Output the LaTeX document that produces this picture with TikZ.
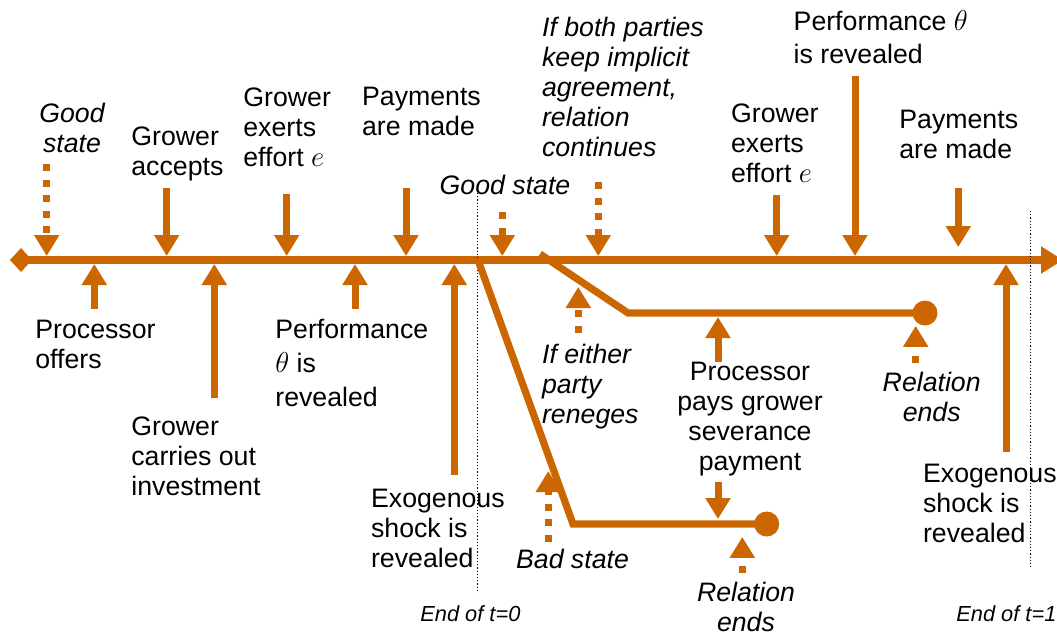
\documentclass[tikz,border=0pt]{standalone}
\usepackage{fontspec}
\setmainfont{Liberation Sans}
\usetikzlibrary{arrows.meta}
\definecolor{timeorange}{RGB}{204,102,0}

\tikzstyle{timeline} = [line width=3.6pt, draw=timeorange]
\tikzstyle{branch} = [line width=3.6pt, draw=timeorange, line join=miter]
\tikzstyle{arrow} = [line width=3.5pt, draw=timeorange, -{Triangle[width=12pt,length=10.5pt]}]
\tikzstyle{dotarrow} = [arrow, dash pattern=on 3.5pt off 4.3pt]
\tikzstyle{txt} = [inner sep=0pt, align=left, anchor=base west, font=\fontsize{13.35}{15}\selectfont]
\tikzstyle{ittxt} = [txt, font=\fontsize{13.35}{15}\selectfont\itshape]
\tikzstyle{endtxt} = [txt, font=\fontsize{10.9}{13}\selectfont\itshape]
\tikzstyle{divider} = [line width=0.5pt, dash pattern=on 0.6pt off 1pt]
\tikzstyle{dotend} = [circle, fill=timeorange, minimum size=12.5pt, inner sep=0pt]

\begin{document}
\begin{tikzpicture}[x=0.5pt, y=-0.5pt]
    \clip (0,0) rectangle (1057,634);

    %Time line
    \coordinate (lineStart) at (10,260);
    \coordinate (lineEnd) at (1063,260);
    \coordinate (tTop) at (0,256);
    \coordinate (tBot) at (0,264);
    \draw [timeline, {Diamond[length=11pt,width=12pt]}-{Triangle[width=13pt,length=11pt]}] (lineStart) -- (lineEnd);

    %Period dividers
    \coordinate (divTop0) at (477.7,193);
    \coordinate (divBot0) at (477.7,593);
    \coordinate (divTop1) at (1030,211);
    \coordinate (divBot1) at (1030,568);
    \draw [divider] (divTop0) -- (divBot0);
    \draw [divider] (divTop1) -- (divBot1);

    %Branches
    \coordinate (splitBad) at (478,260);
    \coordinate (cornerBad) at (573,524);
    \node (relEnd0) [dotend] at (766.7,524) {};
    \coordinate (splitRen) at (540,254);
    \coordinate (cornerRen) at (628,313);
    \node (relEnd1) [dotend] at (925,313) {};
    \draw [branch] (splitBad) -- (cornerBad) -- (relEnd0.center);
    \draw [branch] (splitRen) -- (cornerRen) -- (relEnd1.center);

    %Labels above the line (placed at the baseline of their last line)
    \node (gsLab0) [ittxt, align=center, anchor=base] at (72,152.7) {Good\\state};
    \node (acceptLab) [txt] at (131,175) {Grower\\accepts};
    \node (effortLab0) [txt] at (243,166.7) {Grower\\exerts\\effort $e$};
    \node (payLab0) [txt] at (361.7,135) {Payments\\are made};
    \node (gsLab1) [ittxt] at (439.3,194.3) {Good state};
    \node (keepLab) [ittxt] at (541.7,156.7) {If both parties\\keep implicit\\agreement,\\relation\\continues};
    \node (effortLab1) [txt] at (730.7,182.7) {Grower\\exerts\\effort $e$};
    \node (perfLab1) [txt] at (793.3,63.3) {Performance $\theta$\\[1.5pt]is revealed};
    \node (payLab1) [txt] at (899,158.3) {Payments\\are made};

    %Labels below the line
    \node (offerLab) [txt] at (35,368.3) {Processor\\offers};
    \node (investLab) [txt] at (131,495) {Grower\\carries out\\investment};
    \node (perfLab0) [txt] at (275,406.7) {Performance\\[2pt]$\theta$ is\\[2pt]revealed};
    \node (shockLab0) [txt] at (370.7,567.3) {Exogenous\\shock is\\revealed};
    \node (shockLab1) [txt] at (922.7,542.5) {Exogenous\\shock is\\revealed};
    \node (renegeLab) [ittxt] at (541.7,423.3) {If either\\party\\reneges};
    \node (severLab) [txt, align=center, anchor=base] at (750,470) {Processor\\pays grower\\severance\\payment};
    \node (relEndLab1) [ittxt, align=center, anchor=base] at (931.7,421.7) {Relation\\ends};
    \node (relEndLab0) [ittxt, align=center, anchor=base] at (746,631) {Relation\\ends};
    \node (badLab) [ittxt] at (515.7,568.3) {Bad state};
    \node (endLab0) [endtxt] at (420,621.7) {End of t=0};
    \node (endLab1) [endtxt] at (956,621.7) {End of t=1};

    %Arrow tails
    \coordinate (gsArr0) at (46.7,164);
    \coordinate (acceptArr) at (166.7,188);
    \coordinate (effortArr0) at (286.7,194);
    \coordinate (payArr0) at (406,188);
    \coordinate (gsArr1) at (502.3,212);
    \coordinate (keepArr) at (598.3,182);
    \coordinate (effortArr1) at (776.7,195);
    \coordinate (perfArr1) at (855,76);
    \coordinate (payArr1) at (958.3,188);
    \coordinate (offerArr) at (94.3,309);
    \coordinate (investArr) at (214.3,398);
    \coordinate (perfArr0) at (355,309);
    \coordinate (shockArr0) at (454.3,475);
    \coordinate (shockArr1) at (1006,452);
    \coordinate (renegeArr) at (578.3,333);
    \coordinate (renegeTip) at (578.3,287);
    \coordinate (severUp) at (718,362);
    \coordinate (severUpTip) at (718,317);
    \coordinate (severDown) at (718,482);
    \coordinate (severDownTip) at (718,519);
    \coordinate (relEndArr1) at (915.7,363);
    \coordinate (relEndArr0) at (742.3,573);
    \coordinate (badArr) at (548.3,542);
    \coordinate (badTip) at (548.3,471);

    %Arrows onto the line
    \draw [dotarrow] (gsArr0) -- (gsArr0 |- tTop);
    \draw [arrow] (acceptArr) -- (acceptArr |- tTop);
    \draw [arrow] (effortArr0) -- (effortArr0 |- tTop);
    \draw [arrow] (payArr0) -- (payArr0 |- tTop);
    \draw [dotarrow] (gsArr1) -- (gsArr1 |- tTop);
    \draw [dotarrow] (keepArr) -- (keepArr |- tTop);
    \draw [arrow] (effortArr1) -- (effortArr1 |- tTop);
    \draw [arrow] (perfArr1) -- (perfArr1 |- tTop);
    \draw [arrow] (payArr1) -- ([yshift=4.5pt]payArr1 |- tTop);
    \draw [arrow] (offerArr) -- (offerArr |- tBot);
    \draw [arrow] (investArr) -- (investArr |- tBot);
    \draw [arrow] (perfArr0) -- (perfArr0 |- tBot);
    \draw [arrow] (shockArr0) -- (shockArr0 |- tBot);
    \draw [arrow] (shockArr1) -- (shockArr1 |- tBot);

    %Arrows onto the branches
    \draw [dotarrow] (renegeArr) -- (renegeTip);
    \draw [arrow] (severUp) -- (severUpTip);
    \draw [arrow] (severDown) -- (severDownTip);
    \draw [dotarrow] (relEndArr1) -- (relEndArr1 |- relEnd1.south);
    \draw [dotarrow] (relEndArr0) -- (relEndArr0 |- relEnd0.south);
    \draw [dotarrow] (badArr) -- (badTip);

\end{tikzpicture}
\end{document}
